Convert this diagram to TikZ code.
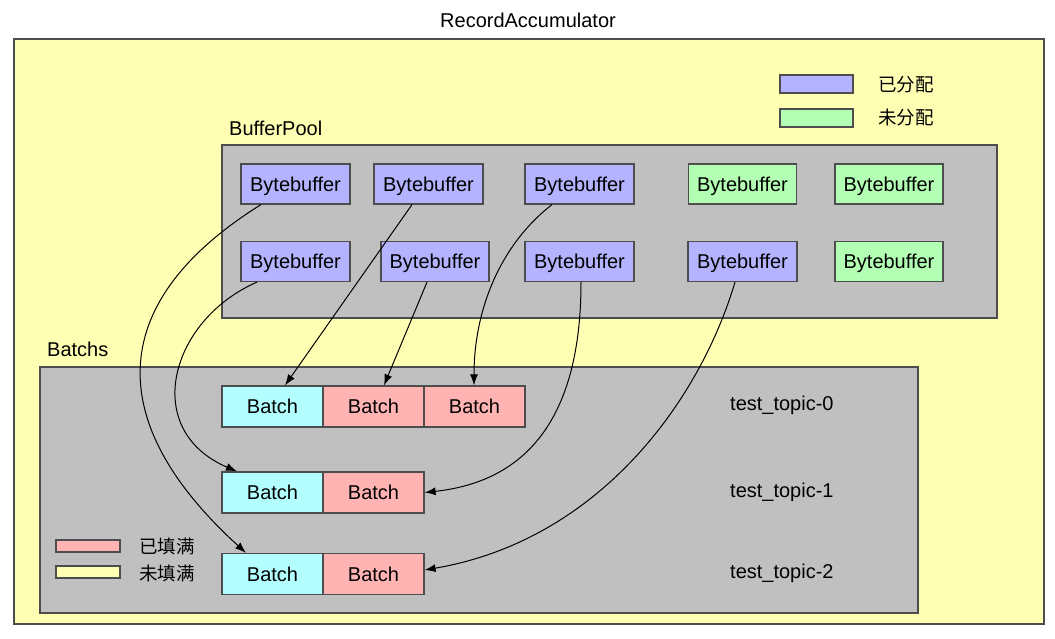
\documentclass[tikz,border=0pt]{standalone}
\usepackage{fontspec}
\setmainfont{Liberation Sans}
\newfontfamily\cjk{Noto Sans CJK SC}
\usetikzlibrary{arrows.meta}
\definecolor{yel}{HTML}{FFFFB3}
\definecolor{gry}{HTML}{C0C0C0}
\definecolor{blu}{HTML}{B3B3FF}
\definecolor{grn}{HTML}{B3FFB3}
\definecolor{cyn}{HTML}{B3FFFF}
\definecolor{pnk}{HTML}{FFB3B3}
\definecolor{edge}{HTML}{4D4D4D}
\tikzset{
  box/.style={draw=edge,line width=1.2pt,rectangle,inner sep=0pt,
    text height=14.5pt,text depth=0pt,font=\fontsize{20}{23}\selectfont},
  bbuf/.style={box,fill=blu,minimum width=109pt,minimum height=40pt},
  fbuf/.style={box,fill=grn,minimum width=108pt,minimum height=40pt},
  cell/.style={box,minimum width=101pt,minimum height=41pt},
  lbl/.style={inner sep=0pt,font=\fontsize{20}{23}\selectfont},
  clbl/.style={inner sep=0pt,font=\cjk\fontsize{18.5}{22}\selectfont},
  area/.style={draw=edge,line width=1.2pt},
  conn/.style={line width=1pt,-{Latex[length=11pt,width=8pt]}}
}
\begin{document}
\begin{tikzpicture}[x=1pt,y=-1pt]
\useasboundingbox (0,0) rectangle (1055,639);
% outer
\draw[area,fill=yel] (14,39) rectangle (1044,624);
\node[lbl] (title) at (528,20) {RecordAccumulator};
% legend top
\node[area,fill=blu,minimum width=73pt,minimum height=18pt,inner sep=0pt] (lb) at (816.5,84) {};
\node[area,fill=grn,minimum width=73pt,minimum height=18pt,inner sep=0pt] (lg) at (816.5,118) {};
\node[clbl,anchor=west] (lbt) at (878,85) {已分配};
\node[clbl,anchor=west] (lgt) at (878,118) {未分配};
% BufferPool
\draw[area,fill=gry] (222,145) rectangle (997,318);
\node[lbl,anchor=base west] (bp) at (229,136) {BufferPool};
\node[bbuf] (b11) at (295.5,184) {Bytebuffer};
\node[bbuf] (b12) at (428.5,184) {Bytebuffer};
\node[bbuf] (b13) at (579.5,184) {Bytebuffer};
\node[fbuf] (b14) at (742.5,184) {Bytebuffer};
\node[fbuf] (b15) at (889,184) {Bytebuffer};
\node[bbuf] (b21) at (295.5,261.5) {Bytebuffer};
\node[fbuf,fill=blu] (b22) at (435,261.5) {Bytebuffer};
\node[bbuf] (b23) at (579.5,261.5) {Bytebuffer};
\node[bbuf] (b24) at (742.5,261.5) {Bytebuffer};
\node[fbuf] (b25) at (889,261.5) {Bytebuffer};
% Batchs
\draw[area,fill=gry] (40,367) rectangle (918,613);
\node[lbl,anchor=base west] (bt) at (47,356) {Batchs};
\node[cell,fill=cyn] (c00) at (272.5,406.5) {Batch};
\node[cell,fill=pnk] (c01) at (373.5,406.5) {Batch};
\node[cell,fill=pnk] (c02) at (474.5,406.5) {Batch};
\node[cell,fill=cyn] (c10) at (272.5,492.5) {Batch};
\node[cell,fill=pnk] (c11) at (373.5,492.5) {Batch};
\node[cell,fill=cyn] (c20) at (272.5,574) {Batch};
\node[cell,fill=pnk] (c21) at (373.5,574) {Batch};
\node[lbl,anchor=west] (t0) at (730,405.5) {test\_topic-0};
\node[lbl,anchor=west] (t1) at (730,492.5) {test\_topic-1};
\node[lbl,anchor=west] (t2) at (730,573.5) {test\_topic-2};
% legend bottom
\node[area,fill=pnk,minimum width=64pt,minimum height=12pt,inner sep=0pt] (lp) at (88,546) {};
\node[area,fill=yel,minimum width=64pt,minimum height=12pt,inner sep=0pt] (ly) at (88,572) {};
\node[clbl,anchor=west] (lpt) at (139,546.5) {已填满};
\node[clbl,anchor=west] (lyt) at (139,573) {未填满};
% connectors
\draw[conn] ([xshift=-34.5pt]b11.south) .. controls (108,300) and (100,420) .. ([xshift=-26.5pt]c20.north);
\draw[conn] ([xshift=-16.5pt]b12.south) -- ([xshift=12.5pt]c00.north);
\draw[conn] ([xshift=-27.5pt]b13.south) .. controls (500,245) and (474,310) .. ([xshift=-0.5pt]c02.north);
\draw[conn] ([xshift=-38.5pt]b21.south) .. controls (170,320) and (140,430) .. ([xshift=-35.5pt]c10.north);
\draw[conn] ([xshift=-8pt]b22.south) -- ([xshift=10.5pt]c01.north);
\draw[conn] ([xshift=1.5pt]b23.south) .. controls (581,400) and (540,480) .. (c11.east);
\draw[conn] ([xshift=-7.5pt]b24.south) .. controls (700,400) and (600,540) .. ([yshift=4pt]c21.east);
\end{tikzpicture}
\end{document}
